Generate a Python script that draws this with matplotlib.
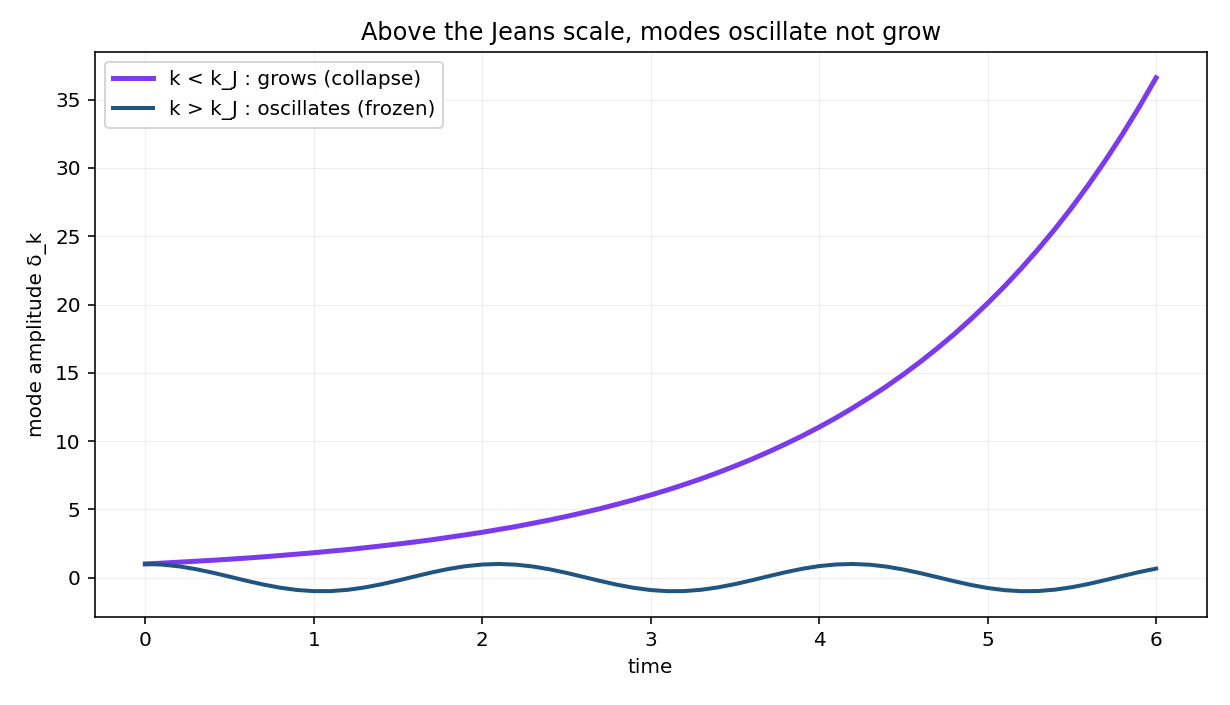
import matplotlib
matplotlib.use("Agg")
import matplotlib.pyplot as plt

t = [round(0.1 * i, 1) for i in range(61)]

grow = [1.00, 1.06, 1.13, 1.20, 1.27, 1.35, 1.43, 1.52, 1.62, 1.72,
        1.82, 1.94, 2.05, 2.18, 2.32, 2.46, 2.61, 2.77, 2.95, 3.13,
        3.32, 3.53, 3.74, 3.98, 4.22, 4.48, 4.76, 5.05, 5.37, 5.70,
        6.05, 6.42, 6.82, 7.24, 7.69, 8.17, 8.67, 9.21, 9.78, 10.38,
        11.02, 11.70, 12.43, 13.20, 14.01, 14.88, 15.80, 16.78, 17.81, 18.92,
        20.09, 21.33, 22.65, 24.05, 25.53, 27.11, 28.79, 30.57, 32.46, 34.47,
        36.60]

osc = [1.00, 0.955, 0.825, 0.622, 0.362, 0.071, -0.227, -0.505, -0.737, -0.904,
       -0.990, -0.987, -0.897, -0.726, -0.490, -0.211, 0.087, 0.378, 0.635, 0.835,
       0.960, 1.000, 0.950, 0.815, 0.608, 0.347, 0.054, -0.243, -0.519, -0.748,
       -0.911, -0.993, -0.985, -0.889, -0.714, -0.476, -0.194, 0.104, 0.393, 0.647,
       0.844, 0.964, 0.999, 0.945, 0.806, 0.594, 0.331, 0.037, -0.260, -0.534,
       -0.760, -0.918, -0.995, -0.982, -0.881, -0.702, -0.461, -0.178, 0.120, 0.408,
       0.660]

labels = ["k < k_J : grows (collapse)", "k > k_J : oscillates (frozen)"]

fig, ax = plt.subplots(figsize=(1230 / 144, 705 / 144), dpi=144)
ax.plot(t, grow, color="#7c3aed", lw=2.5, label=labels[0])
ax.plot(t, osc, color="#1f5580", lw=2.0, label=labels[1])
ax.set_title("Above the Jeans scale, modes oscillate not grow")
ax.set_xlabel("time")
ax.set_ylabel("mode amplitude δ_k")
ax.grid(True, alpha=0.2, lw=0.5)
ax.legend(loc="upper left")
fig.subplots_adjust(left=0.077, right=0.981, top=0.926, bottom=0.125)
fig.savefig("out.png", dpi=144)
